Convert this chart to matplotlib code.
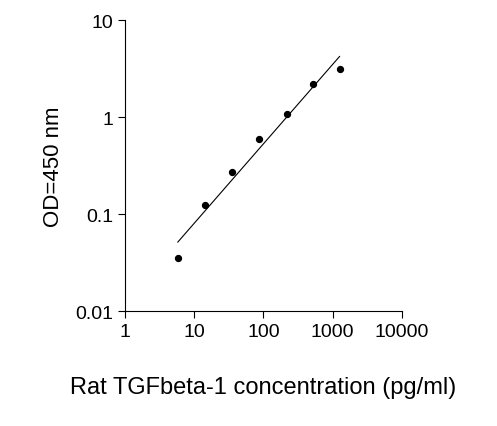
import numpy as np
import matplotlib
matplotlib.use("Agg")
import matplotlib.pyplot as plt

conc = [5.8, 14.3, 35, 86, 218, 519, 1260]
od = [0.035, 0.124, 0.271, 0.593, 1.08, 2.19, 3.13]
xticks = [1, 10, 100, 1000, 10000]
xlabels = ["1", "10", "100", "1000", "10000"]
yticks = [0.01, 0.1, 1, 10]
ylabels = ["0.01", "0.1", "1", "10"]

plt.rcParams['font.family'] = ['Liberation Sans', 'DejaVu Sans']
fig = plt.figure(figsize=(4.97, 4.27), dpi=100)
ax = fig.add_axes([0.2515, 0.269, 0.557, 0.681])
ax.scatter(conc, od, s=18, color='black', zorder=3)
p = np.polyfit(np.log10(conc), np.log10(od), 1)
xl = np.array([conc[0], conc[-1]])
ax.plot(xl, 10 ** np.polyval(p, np.log10(xl)), color='black', lw=0.8)
ax.set_xscale('log'); ax.set_yscale('log')
ax.set_xlim(1, 10000); ax.set_ylim(0.01, 10)
ax.set_xticks(xticks); ax.set_xticklabels(xlabels)
ax.set_yticks(yticks); ax.set_yticklabels(ylabels)
ax.minorticks_off()
ax.tick_params(labelsize=14, direction='out', length=5)
for s in ['top', 'right']:
    ax.spines[s].set_visible(False)
ax.set_xlabel('Rat TGFbeta-1 concentration (pg/ml)', fontsize=17, labelpad=26)
ax.set_ylabel('OD=450 nm', fontsize=16, labelpad=8)
fig.savefig('out.png', dpi=100)
